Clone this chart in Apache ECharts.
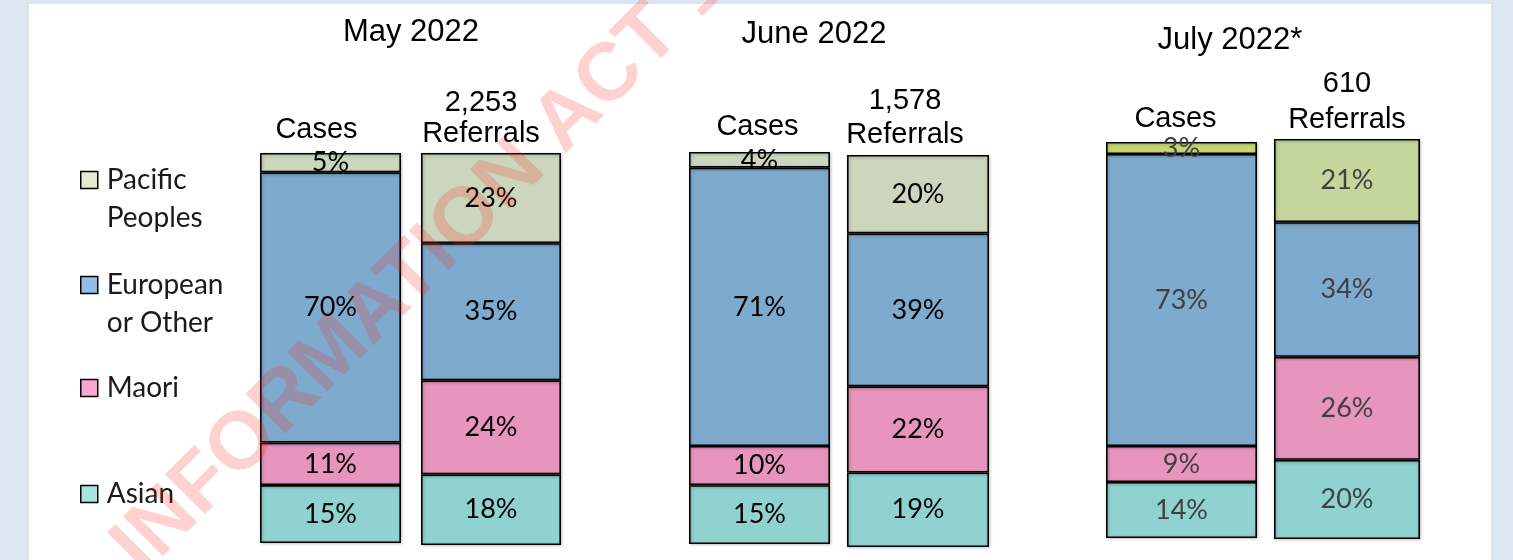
<!DOCTYPE html>
<html>
<head>
<meta charset="utf-8">
<script src="https://cdn.jsdelivr.net/npm/echarts@6/dist/echarts.min.js"></script>
<style>html,body{margin:0;padding:0;background:#DCE6F1;}#c{width:1513px;height:560px;}</style>
</head>
<body>
<div id="c"></div>
<script>
// ---- data ----
const months = ['May 2022', 'June 2022', 'July 2022*'];
const barTypes = ['Cases', 'Referrals'];
const referralCounts = ['2,253', '1,578', '610'];
const seriesNames = ['Asian', 'Maori', 'European or Other', 'Pacific Peoples'];
const asian = [15, 18, 15, 19, 14, 20];
const maori = [11, 24, 10, 22, 9, 26];
const european = [70, 35, 71, 39, 73, 34];
const pacific = [5, 23, 4, 20, 3, 21];

// ---- layout / style ----
const bars = [
  {left: 260, top: 153, width: 141, height: 390, margin: 7, lh: 32, shift: 28},
  {left: 421, top: 153, width: 140, height: 392, margin: 4, lh: 31, shift: 20},
  {left: 689, top: 152, width: 141, height: 392, margin: 9, lh: 32, shift: 4},
  {left: 847, top: 155, width: 142, height: 392, margin: 3, lh: 34, shift: 26},
  {left: 1106, top: 142, width: 151, height: 396, margin: 7, lh: 32, shift: 12},
  {left: 1274, top: 139, width: 146, height: 400, margin: 1, lh: 36, shift: 0}
];
const titlePos = [[411, 32], [814, 34], [1230, 40]];
const fills = {
  'Asian': ['#8FD2D0', '#8FD2D0', '#8FD2D0', '#8FD2D0', '#8FD2D0', '#8FD2D0'],
  'Maori': ['#E795BE', '#E795BE', '#E795BE', '#E795BE', '#E795BE', '#E795BE'],
  'European or Other': ['#7EAACD', '#7EAACD', '#7EAACD', '#7EAACD', '#7EAACD', '#7EAACD'],
  'Pacific Peoples': ['#CCD6BC', '#CCD6BC', '#CCD6BC', '#CCD6BC', '#C5D672', '#C5D69C']
};
const labelColors = ['#000', '#000', '#000', '#000', '#404040', '#404040'];
const legendFill = {'Pacific Peoples': '#E2EBD0', 'European or Other': '#95BDE3', 'Maori': '#F9A6CF', 'Asian': '#A5E4E0'};
const legendMid = {'Pacific Peoples': 180, 'European or Other': 285, 'Maori': 388, 'Asian': 494};
const legendLH = 38;

const values = {'Asian': asian, 'Maori': maori, 'European or Other': european, 'Pacific Peoples': pacific};
const headerFont = 'Liberation Sans, Arial, sans-serif';
const bodyFont = 'Lato, Carlito, sans-serif';

const grid = [], xAxis = [], yAxis = [], series = [];
bars.forEach((b, i) => {
  const m = Math.floor(i / 2), t = i % 2;
  const header = t === 0 ? barTypes[0] : referralCounts[m] + '\n' + barTypes[1];
  const total = seriesNames.reduce((s, n) => s + values[n][i], 0);
  grid.push({left: b.left, top: b.top, width: b.width, height: b.height, containLabel: false});
  xAxis.push({
    type: 'category', gridIndex: i, position: 'top', data: [header],
    axisLine: {show: false}, axisTick: {show: false}, splitLine: {show: false},
    axisLabel: {show: true, interval: 0, margin: b.margin, color: '#000', fontFamily: headerFont,
      fontSize: 29, lineHeight: b.lh, padding: [0, b.shift, 0, 0]}
  });
  yAxis.push({type: 'value', gridIndex: i, min: 0, max: total, show: false});
  seriesNames.forEach(n => {
    series.push({
      type: 'bar', name: n, xAxisIndex: i, yAxisIndex: i, stack: 's' + i,
      barCategoryGap: '0%', barWidth: '100%',
      data: [values[n][i]],
      itemStyle: {color: fills[n][i], borderColor: '#000', borderWidth: 1.6,
        shadowColor: 'rgba(0,0,0,0.25)', shadowBlur: 3, shadowOffsetX: 1, shadowOffsetY: 1},
      label: {show: true, position: 'inside', formatter: '{c}%', color: labelColors[i],
        fontFamily: bodyFont, fontSize: 27},
      emphasis: {disabled: true}
    });
  });
});

const legend = ['Pacific Peoples', 'European or Other', 'Maori', 'Asian'].map(n => {
  const multi = n.indexOf(' ') >= 0;
  return {
    orient: 'vertical', left: 80, top: legendMid[n] - (multi ? 1.5 : 0.5) * legendLH, padding: 0, selectedMode: false,
    icon: 'rect', itemWidth: 17, itemHeight: 17,
    // blank first line keeps the first word of a two-line label level with the swatch
    formatter: name => multi ? '\n' + name.replace(' ', '\n') : name,
    textStyle: {fontFamily: bodyFont, fontSize: 28, color: '#1a1a1a', lineHeight: legendLH, padding: [0, 0, 0, 4]},
    data: [{name: n, itemStyle: {color: legendFill[n], borderColor: '#000', borderWidth: 1.5}}]
  };
});

const graphic = [
  {type: 'rect', z: -10, shape: {x: 29, y: 4, width: 1462, height: 560}, style: {fill: '#fff'}, silent: true}
];
months.forEach((mo, k) => {
  graphic.push({type: 'text', x: titlePos[k][0], y: titlePos[k][1], z: 5,
    style: {text: mo, fill: '#000', font: '31px ' + headerFont, textAlign: 'center', textVerticalAlign: 'middle'}});
});
graphic.push({type: 'text', x: 127, y: 560, rotation: 45 * Math.PI / 180, z: 100, silent: true,
  style: {text: 'INFORMATION ACT 1982', fill: 'rgba(255,30,30,0.2)', font: 'bold 82px ' + headerFont,
    textAlign: 'left', textVerticalAlign: 'middle'}});

const chart = echarts.init(document.getElementById('c'), null, {renderer: 'canvas'});
chart.setOption({
  backgroundColor: '#DCE6F1', animation: false,
  grid, xAxis, yAxis, series, legend, graphic
});
</script>
</body>
</html>
